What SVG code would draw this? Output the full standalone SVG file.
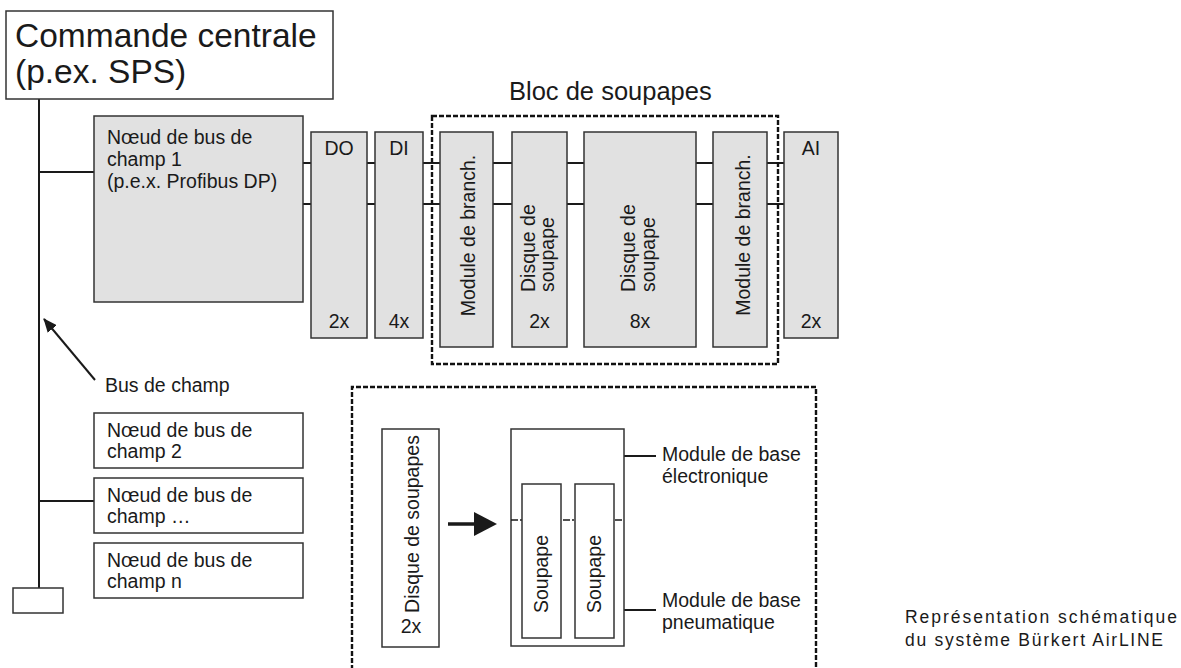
<svg xmlns="http://www.w3.org/2000/svg" width="1181" height="668" viewBox="0 0 1181 668">
<defs>
<style>
text{font-family:"Liberation Sans",Arial,Helvetica,sans-serif;fill:#1a1a1a;}
.t{font-size:19.5px;}
.box{fill:#fff;stroke:#333;stroke-width:1.5;}
.g{fill:#e1e1e1;stroke:#333;stroke-width:1.5;}
.ln{stroke:#1a1a1a;stroke-width:2;fill:none;}
.dot{stroke:#111;stroke-width:2.4;fill:none;stroke-dasharray:5 2;}
.mid{text-anchor:middle;}
</style>
<marker id="ah" markerWidth="14" markerHeight="12" refX="13" refY="6" orient="auto" markerUnits="userSpaceOnUse">
<path d="M0,0 L14,6 L0,12 Z" fill="#1a1a1a"/>
</marker>
</defs>
<rect width="1181" height="668" fill="#fff"/>

<g id="connectors">
<line class="ln" x1="39" y1="99" x2="39" y2="588"/>
<line class="ln" x1="39" y1="172" x2="94" y2="172"/>
<line class="ln" x1="39" y1="501" x2="94" y2="501"/>
<path class="ln" d="M303,163H311M367,163H375M423,163H440M493,163H512M567,163H584M696,163H713M767,163H784"/>
<path class="ln" d="M303,204H311M367,204H375M423,204H440M493,204H512M567,204H584M696,204H713M767,204H784"/>
<line class="ln" x1="95" y1="380" x2="44" y2="319" marker-end="url(#ah)"/>
<line x1="448" y1="524" x2="476" y2="524" stroke="#1a1a1a" stroke-width="3.5"/>
<path d="M474,512 L497,524 L474,536 Z" fill="#1a1a1a"/>
<line class="ln" x1="609" y1="456" x2="656" y2="456"/>
<line class="ln" x1="624" y1="610" x2="656" y2="610"/>
</g>

<g id="commande">
<rect class="box" x="6" y="11" width="327" height="88"/>
<text x="15" y="47" font-size="33.5">Commande centrale</text>
<text x="15" y="83" font-size="33.5">(p.ex. SPS)</text>
</g>

<g id="terminator">
<rect class="box" x="13" y="588" width="50" height="25"/>
</g>

<g id="node1">
<rect class="g" x="94" y="116" width="209" height="186"/>
<text class="t" x="107" y="144">Nœud de bus de</text>
<text class="t" x="107" y="166">champ 1</text>
<text class="t" x="107" y="188">(p.e.x. Profibus DP)</text>
</g>

<g id="do">
<rect class="g" x="311" y="132" width="56" height="206"/>
<text class="t mid" x="339" y="155">DO</text>
<text class="t mid" x="339" y="328">2x</text>
</g>
<g id="di">
<rect class="g" x="375" y="132" width="48" height="206"/>
<text class="t mid" x="399" y="155">DI</text>
<text class="t mid" x="399" y="328">4x</text>
</g>

<g id="bloc">
<path class="dot" d="M432,116H778V364H432Z"/>
<text x="509" y="100" font-size="25.5">Bloc de soupapes</text>
</g>

<g id="branch1">
<rect class="g" x="440" y="132" width="53" height="215"/>
<text class="t mid" transform="translate(475,235.5) rotate(-90)">Module de branch.</text>
</g>
<g id="disque2">
<rect class="g" x="512" y="132" width="55" height="215"/>
<text class="t" transform="translate(535,292) rotate(-90)">Disque de</text>
<text class="t" transform="translate(554,292) rotate(-90)">soupape</text>
<text class="t mid" x="539.5" y="328">2x</text>
</g>
<g id="disque8">
<rect class="g" x="584" y="132" width="112" height="215"/>
<text class="t" transform="translate(635,292) rotate(-90)">Disque de</text>
<text class="t" transform="translate(655,292) rotate(-90)">soupape</text>
<text class="t mid" x="640" y="328">8x</text>
</g>
<g id="branch2">
<rect class="g" x="713" y="132" width="54" height="215"/>
<text class="t mid" transform="translate(750,235) rotate(-90)">Module de branch.</text>
</g>
<g id="ai">
<rect class="g" x="784" y="132" width="54" height="206"/>
<text class="t mid" x="811" y="155">AI</text>
<text class="t mid" x="811" y="328">2x</text>
</g>

<g id="buslabel">
<text class="t" x="105" y="392">Bus de champ</text>
</g>

<g id="node2">
<rect class="box" x="94" y="413" width="209" height="55"/>
<text class="t" x="107" y="437">Nœud de bus de</text>
<text class="t" x="107" y="458">champ 2</text>
</g>
<g id="node3">
<rect class="box" x="94" y="478" width="209" height="55"/>
<text class="t" x="107" y="502">Nœud de bus de</text>
<text class="t" x="107" y="523">champ …</text>
</g>
<g id="noden">
<rect class="box" x="94" y="543" width="209" height="55"/>
<text class="t" x="107" y="567">Nœud de bus de</text>
<text class="t" x="107" y="588">champ n</text>
</g>

<g id="detail">
<path class="dot" d="M352,670V387H816V670"/>
</g>

<g id="disquesoupapes">
<rect class="box" x="382" y="429" width="57" height="218"/>
<text class="t mid" transform="translate(419,524) rotate(-90)">Disque de soupapes</text>
<text class="t mid" x="411" y="633">2x</text>
</g>

<g id="basemodule">
<rect class="box" x="511" y="429" width="113" height="217"/>
<line x1="511" y1="520" x2="624" y2="520" stroke="#1a1a1a" stroke-width="1.5" stroke-dasharray="7 2 2 2"/>
</g>
<g id="soupape1">
<rect class="box" x="522" y="484" width="39" height="154"/>
<text class="t mid" transform="translate(548,574) rotate(-90)">Soupape</text>
</g>
<g id="soupape2">
<rect class="box" x="575" y="484" width="39" height="154"/>
<text class="t mid" transform="translate(601,574) rotate(-90)">Soupape</text>
</g>

<g id="labels">
<text class="t" x="662" y="461">Module de base</text>
<text class="t" x="662" y="483">électronique</text>
<text class="t" x="662" y="607">Module de base</text>
<text class="t" x="662" y="629">pneumatique</text>
<text x="905" y="623" font-size="17.5" textLength="272" lengthAdjust="spacing">Représentation schématique</text>
<text x="905" y="646" font-size="17.5" textLength="258" lengthAdjust="spacing">du système Bürkert AirLINE</text>
</g>
</svg>
